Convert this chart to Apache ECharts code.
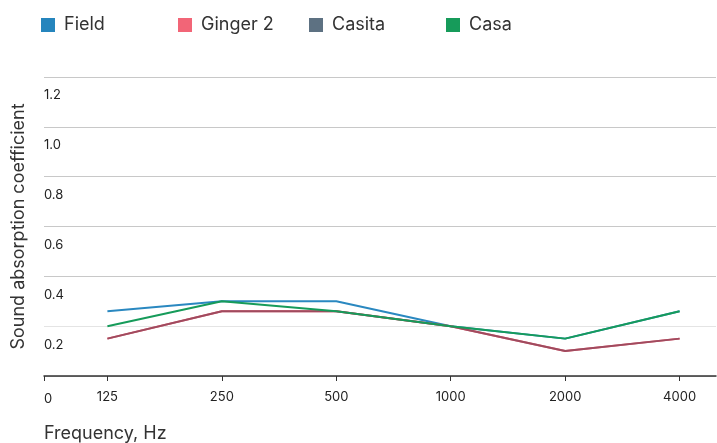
<!DOCTYPE html>
<html>
<head>
<meta charset="utf-8">
<script src="https://cdn.jsdelivr.net/npm/echarts@6/dist/echarts.min.js"></script>
<style>
  html, body { margin: 0; padding: 0; background: #fff; }
  #chart { width: 717px; height: 443px; }
</style>
</head>
<body>
<div id="chart"></div>
<script>
const frequencies = ["125", "250", "500", "1000", "2000", "4000"];
const field = [0.26, 0.3, 0.3, 0.2, 0.15, 0.26];
const ginger2 = [0.15, 0.26, 0.26, 0.2, 0.1, 0.15];
const casita = [0.15, 0.26, 0.26, 0.2, 0.1, 0.15];
const casa = [0.2, 0.3, 0.26, 0.2, 0.15, 0.26];
const yTicks = [0, 0.2, 0.4, 0.6, 0.8, 1.0, 1.2];

const xMin = -0.554;
const xMax = 5.318;
const idx = frequencies.map((f, i) => i);
const pairs = (vals) => vals.map((v, i) => [i, v]);

const font = "Inter, 'Noto Sans', sans-serif";

const legendBase = {
  top: 16,
  padding: 0,
  icon: "rect",
  itemWidth: 14,
  itemHeight: 14,
  itemGap: 0,
  selectedMode: false,
  textStyle: { fontFamily: font, fontSize: 18, color: "#333", padding: [0, 0, 0, 4] },
};

const chart = echarts.init(document.getElementById("chart"));
const option = {
  animation: false,
  legend: [
    { ...legendBase, left: 41, data: ["Field"] },
    { ...legendBase, left: 178, data: ["Ginger 2"] },
    { ...legendBase, left: 309, data: ["Casita"] },
    { ...legendBase, left: 446, data: ["Casa"] },
  ],
  grid: {
    left: 44,
    right: 1,
    top: 77,
    bottom: 67,
  },
  xAxis: {
    type: "value",
    min: xMin,
    max: xMax,
    name: "Frequency, Hz",
    nameLocation: "start",
    nameGap: 0,
    nameTextStyle: {
      fontFamily: font,
      fontSize: 18,
      color: "#333",
      align: "left",
      verticalAlign: "top",
      padding: [49, 0, 0, 0],
    },
    axisLine: { lineStyle: { color: "#333", width: 1.5 } },
    axisTick: {
      customValues: [xMin].concat(idx),
      length: 5,
      lineStyle: { color: "#333" },
    },
    axisLabel: {
      customValues: idx,
      formatter: (v) => frequencies[Math.round(v)],
      margin: 15,
      fontFamily: font,
      fontSize: 13,
      color: "#222",
    },
    splitLine: { show: false },
  },
  yAxis: {
    type: "value",
    min: yTicks[0],
    max: yTicks[yTicks.length - 1],
    interval: 0.2,
    name: "Sound absorption coefficient",
    nameLocation: "middle",
    nameGap: 16,
    nameTextStyle: { fontFamily: font, fontSize: 18, color: "#333" },
    axisLine: { show: false },
    axisTick: { show: false },
    axisLabel: {
      inside: true,
      margin: 0,
      align: "left",
      verticalAlign: "top",
      padding: [12, 0, 0, 0],
      fontFamily: font,
      fontSize: 13,
      color: "#222",
      formatter: (v) => (v === 0 ? "{z|0}" : v.toFixed(1)),
      rich: {
        z: { fontFamily: font, fontSize: 13, color: "#222", padding: [5, 0, 0, 0] },
      },
    },
    splitLine: {
      lineStyle: {
        color: ["#c8c8c8", "#e4e4e4", "#c8c8c8", "#c8c8c8", "#c8c8c8", "#c8c8c8", "#c8c8c8"],
        width: 1,
      },
    },
  },
  series: [
    {
      name: "Field",
      type: "line",
      data: pairs(field),
      showSymbol: false,
      itemStyle: { color: "#2585bd" },
      lineStyle: { width: 2, color: "#2a88c0" },
    },
    {
      name: "Ginger 2",
      type: "line",
      data: pairs(ginger2),
      showSymbol: false,
      itemStyle: { color: "#f26577" },
      lineStyle: { width: 2, color: "#f26577" },
    },
    {
      name: "Casita",
      type: "line",
      data: pairs(casita),
      showSymbol: false,
      itemStyle: { color: "#5d7182" },
      lineStyle: { width: 2, color: "#9e4b5f" },
    },
    {
      name: "Casa",
      type: "line",
      data: pairs(casa),
      showSymbol: false,
      itemStyle: { color: "#169b5a" },
      lineStyle: { width: 2, color: "#169b5a" },
    },
  ],
};
chart.setOption(option);
</script>
</body>
</html>
